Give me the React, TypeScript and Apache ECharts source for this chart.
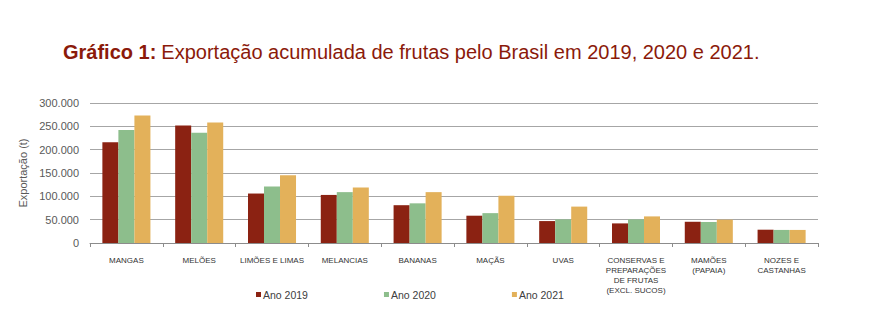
import React, { useEffect, useRef } from "react";
import * as echarts from "echarts";

const categories = [
  "MANGAS",
  "MELÕES",
  "LIMÕES E LIMAS",
  "MELANCIAS",
  "BANANAS",
  "MAÇÃS",
  "UVAS",
  "CONSERVAS E\nPREPARAÇÕES\nDE FRUTAS\n(EXCL. SUCOS)",
  "MAMÕES\n(PAPAIA)",
  "NOZES E\nCASTANHAS",
];

const ano2019 = [216000, 252000, 106000, 103000, 81000, 58500, 47000, 42000, 45500, 28500];
const ano2020 = [242000, 236000, 121000, 109000, 85000, 64000, 50500, 50500, 45000, 28000];
const ano2021 = [273000, 258000, 145000, 119000, 109000, 101000, 78000, 57000, 50000, 28000];

const seriesNames = ["Ano 2019", "Ano 2020", "Ano 2021"];
const colors = ["#8B2212", "#8DBE8C", "#E3B15A"];

const fmt = (v: number) => (v === 0 ? "0" : v.toLocaleString("de-DE"));

const font = "Liberation Sans, Arial, sans-serif";

export default function App() {
  const ref = useRef<HTMLDivElement>(null);
  useEffect(() => {
    const chart = echarts.init(ref.current!, undefined, { renderer: "svg" });
    const data = [ano2019, ano2020, ano2021];
    chart.setOption({
      animation: false,
      textStyle: { fontFamily: font },
      title: {
        left: 58,
        top: 37,
        text: "{b|Gráfico 1:} {n|Exportação acumulada de frutas pelo Brasil em 2019, 2020 e 2021.}",
        textStyle: {
          fontWeight: "normal",
          rich: {
            b: { fontSize: 20, fontWeight: "bold", color: "#8B1A0A", fontFamily: font },
            n: { fontSize: 20, fontWeight: "normal", color: "#8B1A0A", fontFamily: font },
          },
        },
      },
      legend: {
        bottom: 6,
        left: 251,
        itemGap: 76,
        itemWidth: 5,
        itemHeight: 5,
        icon: "rect",
        textStyle: { fontSize: 10.5, color: "#404040", padding: [0, 0, 0, -3] },
        data: seriesNames,
      },
      grid: { left: 90, right: 68, top: 103, bottom: 68 },
      xAxis: {
        type: "category",
        data: categories,
        axisLine: { lineStyle: { color: "#8C8C8C" } },
        axisTick: { show: true, length: 4, alignWithLabel: false, lineStyle: { color: "#8C8C8C" } },
        axisLabel: { interval: 0, fontSize: 8, lineHeight: 10, color: "#333", margin: 12 },
      },
      yAxis: {
        type: "value",
        min: 0,
        max: 300000,
        interval: 50000,
        name: "Exportação (t)",
        nameLocation: "middle",
        nameGap: 57,
        nameTextStyle: { fontSize: 11, color: "#595959" },
        axisLine: { show: false },
        axisTick: { show: false },
        axisLabel: { fontSize: 11, color: "#595959", margin: 11, formatter: fmt },
        splitLine: { lineStyle: { color: "#A6A6A6" } },
      },
      series: seriesNames.map((n, i) => ({
        name: n,
        type: "bar",
        data: data[i],
        itemStyle: { color: colors[i] },
        barGap: "0%",
        barCategoryGap: "34%",
      })),
    });
    return () => chart.dispose();
  }, []);
  return <div ref={ref} style={{ width: 886, height: 311, margin: -8 }} />;
}
